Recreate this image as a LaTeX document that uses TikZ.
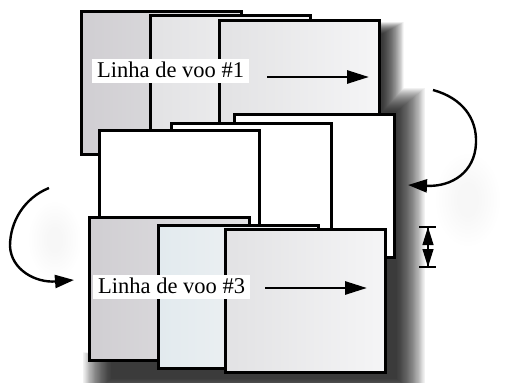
\documentclass[tikz,border=0pt]{standalone}
\usepackage{fontspec}
\setmainfont{Liberation Serif}
\usetikzlibrary{arrows.meta}
\definecolor{photoA}{RGB}{208,206,210}
\definecolor{photoB}{RGB}{236,235,237}
\definecolor{photoC}{RGB}{226,226,228}
\definecolor{photoD}{RGB}{245,245,246}
\definecolor{photoH}{RGB}{226,234,238}
\begin{document}
\begin{tikzpicture}[x=1pt,y=-1pt,
  photo/.style={draw=black, line width=2.6pt, inner sep=0pt, anchor=north west,
    minimum width=160pt, minimum height=143pt},
  grayphoto/.style={photo, left color=photoA, right color=photoC},
  paleshot/.style={photo, left color=photoC, right color=photoD},
  blankshot/.style={photo, fill=white},
  bluishshot/.style={photo, left color=photoH, right color=photoD},
  label/.style={fill=white, inner xsep=5pt, inner ysep=3pt, text height=15.5pt,
    text depth=2pt, anchor=west, font=\fontsize{22.5}{26}\selectfont},
  pointer/.style={line width=2.8pt, -{Triangle[length=22pt,width=13pt]}},
  turn/.style={line width=2.4pt, -{Triangle[length=19pt,width=13pt]}},
  haze/.style={black, opacity=0.055}]

\useasboundingbox[fill=white] (0,0) rectangle (507,383);

% soft drop shadow along the right side and under the last row
\foreach \i in {1,...,24}{
  \fill[haze] ({360-\i},{34-0.5*\i}) rectangle ({382+0.9*\i},150)
              ({370-\i},{112-\i}) rectangle ({396+1.2*\i},{376+\i})
              ({112-1.2*\i},{362-0.4*\i}) rectangle ({396+1.2*\i},{378+\i});
}
% faint smudges behind the turning arrows
\foreach \i in {1,...,8}{
  \fill[black, opacity=0.005] (468,200) ellipse ({8+3*\i} and {14+4*\i});
  \fill[black, opacity=0.005] (55,240) ellipse ({6+2.5*\i} and {10+3.5*\i});
}

% first flight line
\node[grayphoto] (a) at (80,10) {};
\node[paleshot]  (b) at (149,14) {};
\node[paleshot]  (c) at (218,19) {};
\node[label] (l1) at (92,71) {Linha de voo \#1};
\coordinate (p1s) at (267,77);
\coordinate (p1e) at (369,77);
\draw[pointer] (p1s) -- (p1e);

% second flight line, flown back the other way
\node[blankshot] (f) at (233,113) {};
\node[blankshot] (e) at (170,122) {};
\node[blankshot] (d) at (98,129) {};

% third flight line
\node[grayphoto]  (g) at (88,216) {};
\node[bluishshot] (h) at (157,224) {};
\node[paleshot]   (i) at (224,228) {};
\node[label] (l3) at (93,287) {Linha de voo \#3};
\coordinate (p3s) at (265,288);
\coordinate (p3e) at (367,288);
\draw[pointer] (p3s) -- (p3e);

% turns between flight lines
\coordinate (t1s) at (433,90);
\coordinate (t1m) at (476,143);
\coordinate (t1e) at (408,185);
\draw[turn] (t1s) .. controls (462,98) and (477,118) .. (t1m)
                  .. controls (475,172) and (452,187) .. (t1e);
\coordinate (t2s) at (49,188);
\coordinate (t2m) at (10,246);
\coordinate (t2e) at (74,280);
\draw[turn] (t2s) .. controls (24,198) and (10,222) .. (t2m)
                  .. controls (11,270) and (36,283) .. (t2e);

% side overlap marker
\coordinate (om) at (428,247);
\coordinate (ot) at (428,227);
\coordinate (ob) at (428,267);
\draw[line width=1.2pt] (ot) -- (ob);
\draw[line width=1.2pt, -{Triangle[length=18pt,width=11pt]}] (om) -- (ot);
\draw[line width=1.2pt, -{Triangle[length=18pt,width=11pt]}] (om) -- (ob);
\draw[line width=1.4pt] ([xshift=-9pt]ot) -- ([xshift=8pt]ot);
\draw[line width=1.4pt] ([xshift=-9pt]ob) -- ([xshift=8pt]ob);
\end{tikzpicture}
\end{document}
